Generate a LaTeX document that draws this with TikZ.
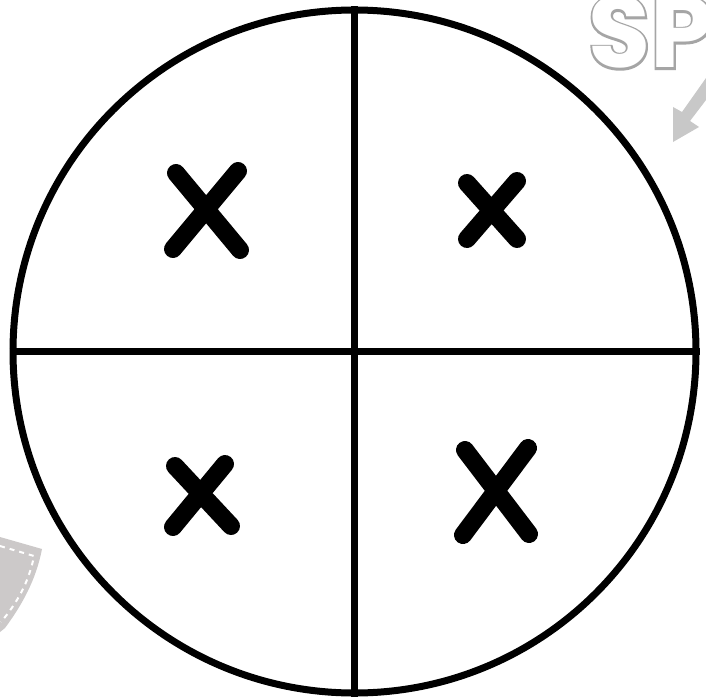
\documentclass[tikz,border=0pt]{standalone}
\usepackage{fontspec}
\setmainfont{Poppins}
\newfontfamily\spthick[FakeBold=4,BoldFeatures={FakeBold=4}]{Poppins}
\definecolor{faintgray}{RGB}{165,165,165}
\definecolor{patchgray}{RGB}{204,201,201}
\definecolor{arrowgray}{RGB}{200,200,200}

\begin{document}
\begin{tikzpicture}[
    x=1pt,y=-1pt,
    ring/.style={draw,line width=7pt},
    divider/.style={line width=7pt},
    xmark/.style={line width=18pt,line cap=round},
    stitch/.style={white,line width=2pt,dash pattern=on 5pt off 5pt},
    sptext/.style={anchor=base west,inner sep=0pt,font=\fontsize{101}{101}\selectfont\bfseries},
]
  % Canvas
  \useasboundingbox[fill=white] (0,0) rectangle (706,698);

  % Faded background pieces
  \fill[patchgray] (0,537) -- (42,549) .. controls (36,580) and (22,605) .. (5,628) -- (0,632) -- cycle;
  \draw[stitch] (0,546) -- (34,556) .. controls (29,582) and (17,603) .. (1,622);
  \fill[arrowgray] (706,78) -- (682,112) -- (673,107) -- (673,142) -- (699,127) -- (690,121) -- (706,100) -- cycle;
  \node[sptext,faintgray] (spback) at (588,68) {\spthick SP};
  \node[sptext,white] (sp) at (spback.base west) {SP};

  % Circle split in four
  \coordinate (c) at (354.5,351.5);
  \node[ring,circle,minimum size=683pt,inner sep=0pt] (disc) at (c) {};
  \draw[divider] (disc.north) -- (disc.south);
  \draw[divider] (disc.west) -- (disc.east);

  % Crosses
  \draw[xmark] (176,173) -- (240,250) (238,171) -- (173,249);
  \draw[xmark] (467,183) -- (517,239) (517,181) -- (467,239);
  \draw[xmark] (175,466) -- (231,526) (225,464) -- (173,527);
  \draw[xmark] (465,450) -- (529,534) (528,448) -- (463,535);
\end{tikzpicture}
\end{document}
